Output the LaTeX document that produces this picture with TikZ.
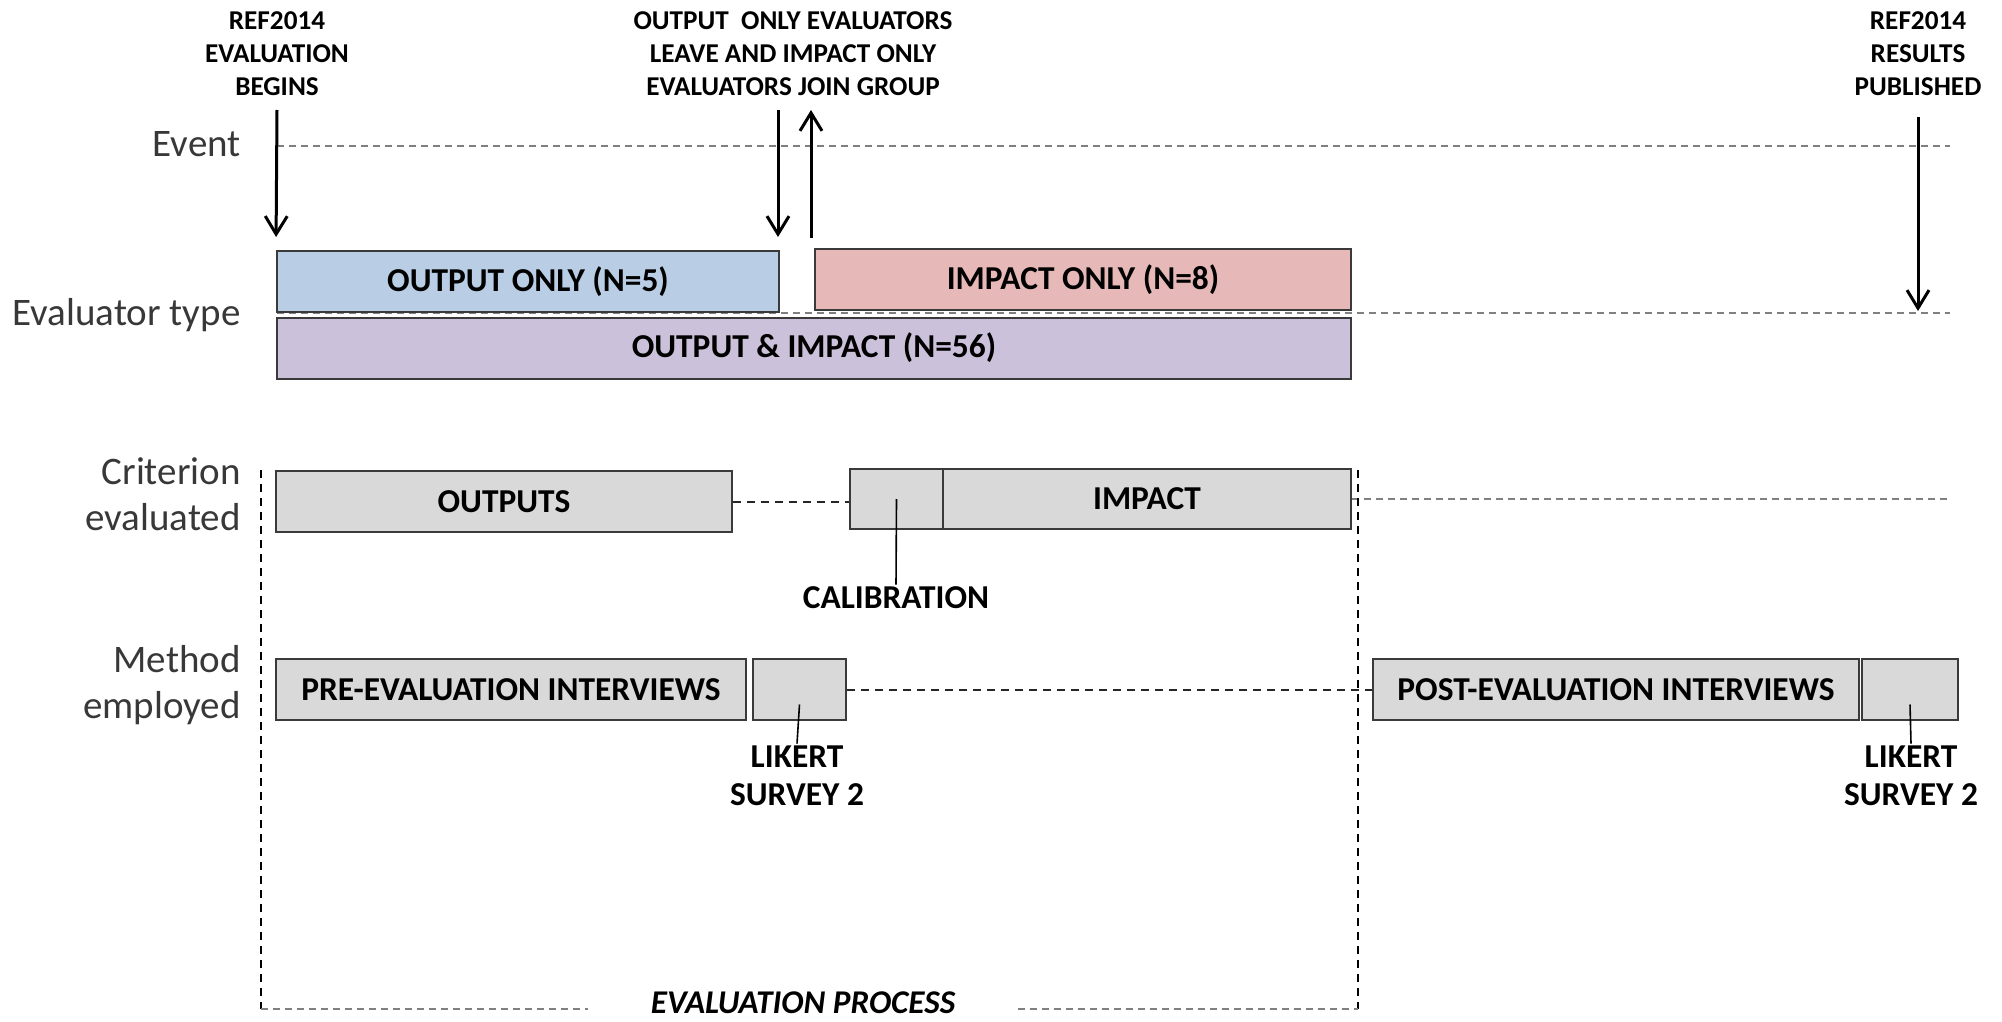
\documentclass[tikz,border=0pt]{standalone}
\usepackage{fontspec}
\setmainfont{Carlito}
\usetikzlibrary{arrows.meta}

\definecolor{outblue}{HTML}{B9CDE5}
\definecolor{imppink}{HTML}{E6B9B8}
\definecolor{bothlilac}{HTML}{CCC1DA}
\definecolor{critgray}{HTML}{D9D9D9}
\definecolor{edgegray}{HTML}{3A3A3A}
\definecolor{dashgray}{HTML}{808080}

\begin{document}
\begin{tikzpicture}[x=0.5pt,y=-0.5pt,
  bar/.style={draw=edgegray,line width=1pt,minimum height=30.5pt,inner sep=0pt,font=\fontsize{16.7}{18}\selectfont\bfseries},
  tag/.style={align=center,inner sep=1pt,font=\fontsize{13.6}{16.5}\selectfont\bfseries},
  call/.style={align=center,inner sep=1pt,font=\fontsize{16.7}{19}\selectfont\bfseries},
  side/.style={anchor=east,align=right,inner sep=0pt,text=black!78,font=\fontsize{19.5}{23}\selectfont},
  evarrow/.style={-{Straight Barb[length=9pt,width=11pt]},line width=1.5pt},
  guide/.style={draw=dashgray,line width=1pt,dash pattern=on 3.5pt off 2.5pt},
  link/.style={draw=black!85,line width=1pt,dash pattern=on 4pt off 3pt},
  frame/.style={line width=0.6pt,dash pattern=on 4pt off 3pt}]

\useasboundingbox (0,0) rectangle (2002,1022);

\node[side] (ev) at (241,144) {Event};
\node[side] (et) at (241,315) {Evaluator type};
\node[side] (ce) at (241,494) {Criterion\\evaluated};
\node[side] (me) at (241,685) {Method\\employed};

\node[tag] (begins) at (277,54) {REF2014\\EVALUATION\\BEGINS};
\node[tag] (swap) at (793,54) {OUTPUT\ \ ONLY EVALUATORS\\LEAVE AND IMPACT ONLY\\EVALUATORS JOIN GROUP};
\node[tag] (results) at (1918,54) {REF2014\\RESULTS\\PUBLISHED};

\coordinate (evL) at (277,146);
\coordinate (evR) at (1950,146);
\coordinate (etL) at (277,313);
\coordinate (etR) at (1950,313);
\draw[guide] (evL) -- (evR);
\draw[guide] (etL) -- (etR);

\node[bar,fill=outblue,minimum width=251pt] (outonly) at (528,281.5) {OUTPUT ONLY (N=5)};
\node[bar,fill=imppink,minimum width=268pt] (imponly) at (1083,279.5) {IMPACT ONLY (N=8)};
\node[bar,fill=bothlilac,minimum width=537pt] (both) at (814,348) {OUTPUT \& IMPACT (N=56)};

\coordinate (a1) at (277,110);
\coordinate (a2) at (778,110);
\coordinate (j1) at (811,238);
\coordinate (j2) at (811,110);
\coordinate (r1) at (1918,117);
\coordinate (r2) at (1918,311);
\draw[evarrow,shorten >=6.5pt] (a1) -- (outonly.north west);
\draw[evarrow,shorten >=6.5pt] (a2) -- (a2 |- outonly.north);
\draw[evarrow] (j1) -- (j2);
\draw[evarrow] (r1) -- (r2);

\node[bar,fill=critgray,minimum width=228pt] (outputs) at (504,501.5) {OUTPUTS};
\node[bar,fill=critgray,minimum width=46.5pt,minimum height=30pt] (calib) at (896.5,499) {};
\node[bar,fill=critgray,minimum width=204pt,minimum height=30pt] (impact) at (1147,499) {IMPACT};
\coordinate (critR) at (1950,499);
\draw[link] (outputs.east) -- (outputs.east -| calib.west);
\draw[guide] (impact.east) -- (critR);
\node[call] (calibl) at (896,598) {CALIBRATION};
\draw[line width=0.8pt] (calib.center) -- (calibl.north);

\node[bar,fill=critgray,minimum width=235pt] (pre) at (511,689.5) {PRE-EVALUATION INTERVIEWS};
\node[bar,fill=critgray,minimum width=46.5pt] (lik1) at (799.5,689.5) {};
\node[bar,fill=critgray,minimum width=243pt] (post) at (1616,689.5) {POST-EVALUATION INTERVIEWS};
\node[bar,fill=critgray,minimum width=48pt] (lik2) at (1910,689.5) {};
\draw[link] (lik1) -- (post);
\node[call] (likl1) at (797,776) {LIKERT\\SURVEY 2};
\node[call] (likl2) at (1911,776) {LIKERT\\SURVEY 2};
\draw[line width=0.8pt] ([yshift=-7.5pt]lik1.center) -- (likl1.north);
\draw[line width=0.8pt] ([yshift=-7.5pt]lik2.center) -- (likl2.north);

\coordinate (ftl) at (261,470);
\coordinate (fbl) at (261,1009);
\coordinate (ftr) at (1358,470);
\coordinate (fbr) at (1358,1009);
\node[font=\fontsize{16.6}{18}\selectfont\bfseries\itshape,inner xsep=31pt,inner ysep=0pt] (evalproc) at (803,1003) {EVALUATION PROCESS};
\draw[frame] (ftl) -- (fbl);
\draw[frame] (ftr) -- (fbr);
\draw[guide] (fbl) -- (fbl -| evalproc.west);
\draw[guide] (fbr -| evalproc.east) -- (fbr);

\end{tikzpicture}
\end{document}
